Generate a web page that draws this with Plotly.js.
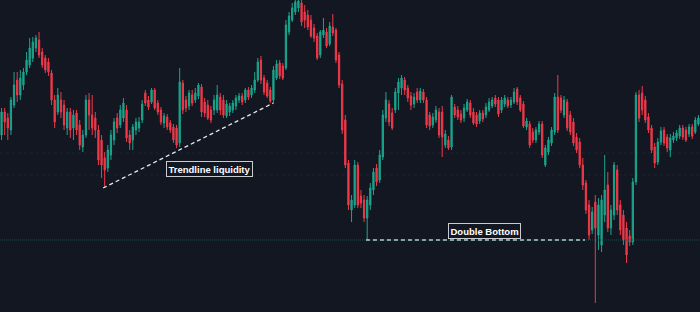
<!DOCTYPE html>
<html>
<head>
<meta charset="utf-8">
<script src="https://cdn.plot.ly/plotly-3.0.1.min.js"></script>
<style>
  html, body { margin: 0; padding: 0; background: #131722; }
  #chart { width: 700px; height: 312px; }
</style>
</head>
<body>
<div id="chart"></div>
<script>
// Candle OHLC values (arbitrary price units), one per bar
const openP = [177,200,194,182,207,232,217,227,240,247,254,264,272,260,254,250,239,212,200,212,207,184,200,184,199,187,165,177,212,197,194,182,
172,154,144,157,172,194,187,194,202,177,172,182,184,192,219,212,210,222,209,202,189,195,189,185,184,169,229,212,206,217,212,216,
225,210,207,202,202,202,215,212,196,200,202,206,212,216,212,222,217,222,232,252,234,229,222,212,234,249,246,244,280,292,300,304,
309,300,297,292,284,276,257,277,280,268,285,282,257,228,192,149,102,107,147,116,112,94,107,122,144,132,155,194,208,199,202,219,
224,232,224,216,208,220,212,220,212,197,187,192,200,200,167,172,165,205,202,198,194,202,209,200,197,191,199,197,202,206,214,212,
202,208,212,207,210,223,214,208,185,188,180,172,180,188,147,160,169,180,215,214,197,210,197,190,175,170,147,129,107,82,110,77,
67,97,127,84,97,142,107,97,84,76,70,130,217,219,212,195,184,165,150,170,182,175,162,172,174,176,184,182,178,185,180,188];
const highP = [204,204,199,215,240,240,242,244,260,274,275,277,280,264,257,254,242,217,224,220,212,204,204,202,202,192,182,217,219,217,200,187,
177,160,167,182,194,199,207,214,207,182,188,194,195,212,222,216,224,224,212,205,199,198,192,188,187,244,232,216,222,222,224,229,
228,214,212,206,217,227,219,217,212,209,212,217,219,219,224,225,227,240,254,256,237,232,225,246,252,252,249,292,300,309,312,317,
315,307,302,297,288,279,282,294,284,290,298,284,260,232,197,152,117,152,150,122,117,116,129,144,148,162,202,220,212,204,224,234,
237,235,227,220,219,224,224,223,215,200,199,206,204,206,182,176,217,208,206,202,208,213,212,204,200,202,202,209,214,215,217,215,
215,217,215,215,224,225,217,211,194,191,184,185,191,191,167,175,185,219,237,217,216,213,201,194,179,174,154,132,112,105,117,114,
117,157,140,107,150,147,112,102,90,82,134,220,222,226,216,199,187,169,174,185,185,178,178,180,182,187,187,185,188,188,195,197];
const lowP = [172,177,172,177,204,210,212,222,237,244,250,260,254,244,239,236,207,184,197,194,182,177,174,172,177,162,160,174,182,177,174,147,
134,124,140,152,167,179,184,190,170,162,162,177,180,189,206,202,208,202,197,187,184,182,179,169,164,165,198,200,202,206,209,213,
195,195,192,189,197,199,197,194,194,196,199,202,209,207,209,212,214,219,230,228,217,214,209,209,232,233,232,242,277,290,297,300,
286,284,282,274,270,252,254,274,264,266,276,249,224,178,144,102,90,104,104,104,90,72,102,117,126,129,152,190,186,182,199,202,
217,217,210,202,204,209,209,209,184,182,184,189,174,155,164,162,162,194,192,189,190,200,194,187,185,188,190,194,200,204,205,195,
199,205,204,204,208,207,200,184,182,164,169,169,177,154,145,157,166,177,179,199,194,181,177,166,159,144,122,98,72,78,9,62,
60,90,80,77,92,97,77,67,49,66,67,127,190,197,189,179,159,144,147,167,166,160,155,169,171,173,172,170,175,173,178,186];
const closeP = [200,190,184,212,227,217,234,240,252,264,270,274,257,247,242,240,212,190,217,200,187,200,182,197,182,167,177,212,197,184,182,152,
147,142,162,177,190,184,202,209,174,169,185,190,190,208,209,205,222,204,200,190,196,185,182,172,167,230,202,204,219,209,219,227,
200,199,194,192,212,217,202,197,208,206,209,214,216,210,222,215,224,232,250,232,220,216,211,242,248,236,234,287,296,304,310,311,
290,292,285,276,274,254,280,282,266,286,279,252,227,182,147,107,112,147,107,109,94,112,124,140,130,157,197,212,190,184,220,230,
234,222,214,207,215,212,221,212,187,186,195,202,177,175,178,164,215,197,195,192,204,210,197,189,188,199,193,205,210,212,208,198,
212,214,206,212,220,210,202,186,191,167,172,182,188,157,164,172,182,215,182,202,212,184,180,169,162,147,127,102,77,100,84,107,
112,122,84,102,147,102,82,72,57,70,130,217,194,202,192,182,162,149,170,181,169,164,174,176,179,184,175,172,185,176,192,194];

// Annotated levels
const trendX = [32.5, 87];           // bar positions of the trendline ends
const trendY = [124, 209];           // trendline prices
const doubleBottomX = [116.6, 186.7];
const doubleBottomLevel = 72;
const zoneLevels = [159, 137];

const n = closeP.length;
const idx = Array.from({length: n}, (_, i) => i);

const green = '#1aa58c';
const red = '#f0394a';

const candles = {
  type: 'candlestick',
  x: idx, open: openP, high: highP, low: lowP, close: closeP,
  increasing: {line: {color: green, width: 1}, fillcolor: green},
  decreasing: {line: {color: red, width: 1}, fillcolor: red},
  whiskerwidth: 0,
  hoverinfo: 'none',
  showlegend: false
};

const fullLevel = {
  type: 'scatter', mode: 'lines',
  x: [-0.5, n - 0.5], y: [doubleBottomLevel, doubleBottomLevel],
  line: {color: '#1c4a4c', width: 1, dash: '1px,1px'},
  hoverinfo: 'none', showlegend: false
};

const trend = {
  type: 'scatter', mode: 'lines',
  x: trendX, y: trendY,
  line: {color: '#e6e8ec', width: 1.3, dash: '4px,3px'},
  hoverinfo: 'none', showlegend: false
};

const dbl = {
  type: 'scatter', mode: 'lines',
  x: doubleBottomX, y: [doubleBottomLevel, doubleBottomLevel],
  line: {color: '#b9c8c8', width: 1.3, dash: '4px,3px'},
  hoverinfo: 'none', showlegend: false
};

const shapes = zoneLevels.map(v => ({
  type: 'line', xref: 'paper', x0: 0, x1: 1, yref: 'y', y0: v, y1: v,
  line: {color: 'rgba(70,80,100,0.2)', width: 1, dash: 'dot'}, layer: 'below'
}));

const labelFont = {family: 'Liberation Sans, Arial, sans-serif', size: 9.5, color: '#ffffff', weight: 'bold'};

const layout = {
  width: 700, height: 312,
  margin: {l: 0, r: 0, t: 0, b: 0},
  paper_bgcolor: '#131722',
  plot_bgcolor: '#131722',
  boxgap: 0.42,
  xaxis: {range: [-0.5, n - 0.5], showgrid: false, zeroline: false, showticklabels: false,
          ticks: '', rangeslider: {visible: false}, fixedrange: true},
  yaxis: {range: [0, 312], showgrid: false, zeroline: false, showticklabels: false, ticks: '', fixedrange: true},
  shapes: shapes,
  annotations: [
    {xref: 'paper', yref: 'paper', x: 209/700, y: 1 - 168.5/312, text: 'Trendline liquidity',
     showarrow: false, font: labelFont, bgcolor: '#131722', bordercolor: '#c9ccd1', borderwidth: 1, borderpad: 1.5,
     xanchor: 'center', yanchor: 'middle'},
    {xref: 'paper', yref: 'paper', x: 484/700, y: 1 - 230.5/312, text: 'Double Bottom',
     showarrow: false, font: labelFont, bgcolor: '#131722', bordercolor: '#c9ccd1', borderwidth: 1, borderpad: 1.5,
     xanchor: 'center', yanchor: 'middle'}
  ],
  showlegend: false,
  hovermode: false
};

Plotly.newPlot('chart', [fullLevel, candles, trend, dbl], layout, {displayModeBar: false, staticPlot: true});
</script>
</body>
</html>
